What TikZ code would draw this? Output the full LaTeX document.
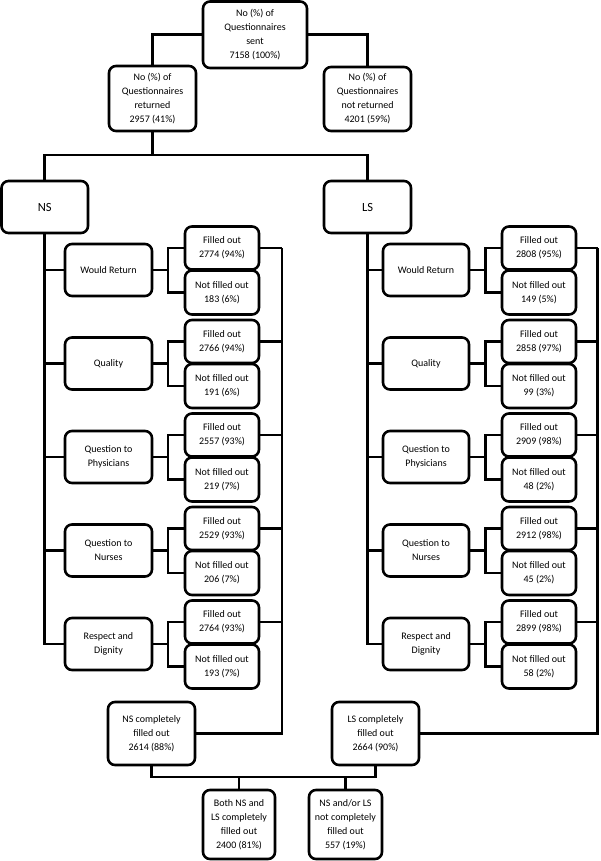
\documentclass[tikz,border=0pt]{standalone}
\usepackage{fontspec}
\setmainfont{Carlito}
\begin{document}
\begin{tikzpicture}[x=1pt,y=-1pt,
  box/.style={draw=black, line width=2.6pt, rounded corners=7pt, rectangle, align=center, inner sep=0pt, fill=white,
    font=\fontsize{10}{14}\selectfont},
  big/.style={font=\fontsize{12.5}{15}\selectfont},
  conn/.style={draw=black, line width=2.6pt}]
\useasboundingbox (0,0) rectangle (600,861);
\fill[white] (0,0) rectangle (600,861);
\newcommand{\bx}[6]{\node[box, minimum width={((#4)-(#2))*1pt}, minimum height={((#5)-(#3))*1pt}] (#1) at ({((#2)+(#4))/2},{((#3)+(#5))/2}) {#6};}
\newcommand{\bxb}[6]{\node[box, big, minimum width={((#4)-(#2))*1pt}, minimum height={((#5)-(#3))*1pt}] (#1) at ({((#2)+(#4))/2},{((#3)+(#5))/2}) {#6};}
% top level
\bx{top}{203}{1.5}{307}{68}{No (\%) of\\Questionnaires\\sent\\7158 (100\%)}
\bx{ret}{109}{66}{196}{131}{No (\%) of\\Questionnaires\\returned\\2957 (41\%)}
\bx{nret}{324}{67}{411}{131}{No (\%) of\\Questionnaires\\not returned\\4201 (59\%)}
\bxb{NS}{1.5}{181}{88}{233}{NS}
\bxb{LS}{324}{181}{411}{233}{LS}
\newcommand{\grp}[9]{%
  % #1 prefix, #2 center y, #3 main x1, #4 main x2, #5 sub x1, #6 sub x2, #7 main text, #8 filled text, #9 not filled text
  \bx{#1m}{#3}{#2-26}{#4}{#2+26}{#7}
  \bx{#1f}{#5}{#2-43.5}{#6}{#2-0.5}{#8}
  \bx{#1n}{#5}{#2+0.5}{#6}{#2+44.5}{#9}
}
\grp{nsA}{270}{65}{152}{185}{259}{Would Return}{Filled out\\2774 (94\%)}{Not filled out\\183 (6\%)}
\grp{nsB}{363.5}{65}{152}{185}{259}{Quality}{Filled out\\2766 (94\%)}{Not filled out\\191 (6\%)}
\grp{nsC}{457}{65}{152}{185}{259}{Question to\\Physicians}{Filled out\\2557 (93\%)}{Not filled out\\219 (7\%)}
\grp{nsD}{550.5}{65}{152}{185}{259}{Question to\\Nurses}{Filled out\\2529 (93\%)}{Not filled out\\206 (7\%)}
\grp{nsE}{644}{65}{152}{185}{259}{Respect and\\Dignity}{Filled out\\2764 (93\%)}{Not filled out\\193 (7\%)}
\grp{lsA}{270}{383}{469}{502}{576}{Would Return}{Filled out\\2808 (95\%)}{Not filled out\\149 (5\%)}
\grp{lsB}{363.5}{383}{469}{502}{576}{Quality}{Filled out\\2858 (97\%)}{Not filled out\\99 (3\%)}
\grp{lsC}{457}{383}{469}{502}{576}{Question to\\Physicians}{Filled out\\2909 (98\%)}{Not filled out\\48 (2\%)}
\grp{lsD}{550.5}{383}{469}{502}{576}{Question to\\Nurses}{Filled out\\2912 (98\%)}{Not filled out\\45 (2\%)}
\grp{lsE}{644}{383}{469}{502}{576}{Respect and\\Dignity}{Filled out\\2899 (98\%)}{Not filled out\\58 (2\%)}
% completion boxes
\bx{nsAll}{108}{702}{195}{765}{NS completely\\filled out\\2614 (88\%)}
\bx{lsAll}{332}{702}{419}{765}{LS completely\\filled out\\2664 (90\%)}
\bx{both}{203}{790}{275}{859}{Both NS and\\LS completely\\filled out\\2400 (81\%)}
\bx{nsor}{309}{790}{382}{859}{NS and/or LS\\not completely\\filled out\\557 (19\%)}
% helper coordinates
\coordinate (j1) at (152.5,155);
\coordinate (j2) at (0,777);
\coordinate (nsF) at (168,0);
\coordinate (nsK) at (282,0);
\coordinate (lsF) at (485.5,0);
\coordinate (lsK) at (597.5,0);
% top connectors
\draw[conn] (top.west) -| (ret.north);
\draw[conn] (top.east) -| (nret.north);
\draw[conn] (ret.south) -- (j1);
\draw[conn] (NS.north) |- (j1) -| (LS.north);
% trunks
\draw[conn] (NS.south) |- (nsEm.west);
\draw[conn] (LS.south) |- (lsEm.west);
\foreach \g in {A,B,C,D}{
  \draw[conn] (ns\g m.west) -- (ns\g m.west -| NS.south);
  \draw[conn] (ls\g m.west) -- (ls\g m.west -| LS.south);
}
\foreach \g in {A,B,C,D,E}{
  \draw[conn] (ns\g m.east) -- (ns\g m.east -| nsF);
  \draw[conn] (ns\g f.west) -| (nsF |- ns\g n.west) -- (ns\g n.west);
  \draw[conn] (ns\g f.east) -- (ns\g f.east -| nsK);
  \draw[conn] (ls\g m.east) -- (ls\g m.east -| lsF);
  \draw[conn] (ls\g f.west) -| (lsF |- ls\g n.west) -- (ls\g n.west);
  \draw[conn] (ls\g f.east) -- (ls\g f.east -| lsK);
}
\draw[conn] (nsK |- nsAf.east) |- (nsAll.east);
\draw[conn] (lsK |- lsAf.east) |- (lsAll.east);
% bottom
\draw[conn] (nsAll.south) -- (nsAll.south |- j2) -| (lsAll.south);
\draw[conn] (both.north) -- (both.north |- j2);
\draw[conn] (nsor.north) -- (nsor.north |- j2);
\end{tikzpicture}
\end{document}
